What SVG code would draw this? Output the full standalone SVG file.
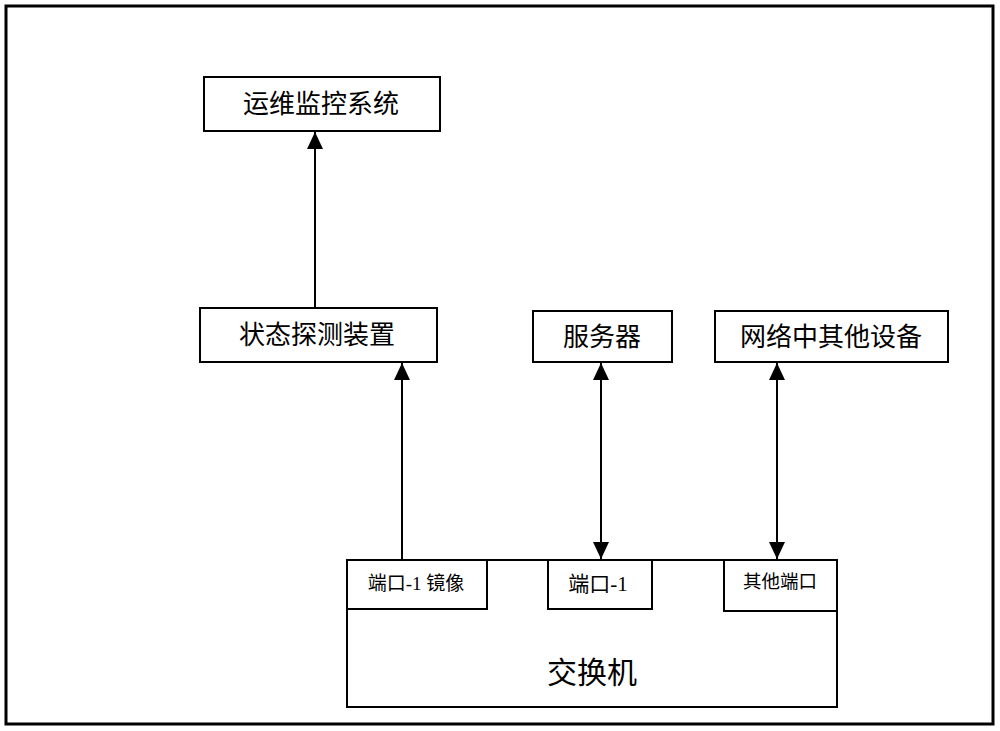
<svg xmlns="http://www.w3.org/2000/svg" width="1000" height="731" viewBox="0 0 1000 731">
<style>
.box{fill:#fff;stroke:#000;stroke-width:2}
.t{font-family:"Liberation Serif","Noto Sans CJK SC",serif;fill:#000;text-anchor:middle;dominant-baseline:central}
.big{font-size:26px}
.sm{font-size:18.5px}
.ln{stroke:#000;stroke-width:2;fill:none}
</style>
<defs>
<marker id="ah" viewBox="0 0 17 16" refX="17" refY="8" markerWidth="17" markerHeight="16" markerUnits="userSpaceOnUse" orient="auto-start-reverse">
<path d="M0,0 L17,8 L0,16 Z" fill="#000"/>
</marker>
</defs>
<rect x="6" y="6" width="987" height="718" fill="#fff" stroke="#000" stroke-width="3"/>
<g id="ops">
<rect class="box" x="204" y="77" width="236" height="54"/>
<text class="t big" x="321" y="104">运维监控系统</text>
</g>
<g id="detector">
<rect class="box" x="200" y="308" width="237" height="54"/>
<text class="t big" x="317" y="335">状态探测装置</text>
</g>
<g id="server">
<rect class="box" x="533" y="311" width="139" height="51"/>
<text class="t big" x="602" y="337">服务器</text>
</g>
<g id="others">
<rect class="box" x="715" y="311" width="233" height="51"/>
<text class="t big" x="831" y="337">网络中其他设备</text>
</g>
<g id="switch">
<rect class="box" x="347" y="560" width="490" height="147"/>
<text class="t" style="font-size:30px" x="592" y="672">交换机</text>
</g>
<g id="port-mirror">
<rect class="box" x="347" y="560" width="140" height="49"/>
<text class="t" style="font-size:19px" x="416" y="583">端口-1 镜像</text>
</g>
<g id="port-1">
<rect class="box" x="548" y="560" width="104" height="49"/>
<text class="t" style="font-size:21px" x="598" y="584">端口-1</text>
</g>
<g id="port-other">
<rect class="box" x="724" y="560" width="113" height="51"/>
<text class="t sm" x="780" y="582">其他端口</text>
</g>
<g id="connectors">
<line class="ln" x1="315" y1="308" x2="315" y2="132" marker-end="url(#ah)"/>
<line class="ln" x1="402" y1="560" x2="402" y2="363" marker-end="url(#ah)"/>
<line class="ln" x1="601" y1="559" x2="601" y2="363" marker-start="url(#ah)" marker-end="url(#ah)"/>
<line class="ln" x1="777" y1="559" x2="777" y2="363" marker-start="url(#ah)" marker-end="url(#ah)"/>
</g>
</svg>
